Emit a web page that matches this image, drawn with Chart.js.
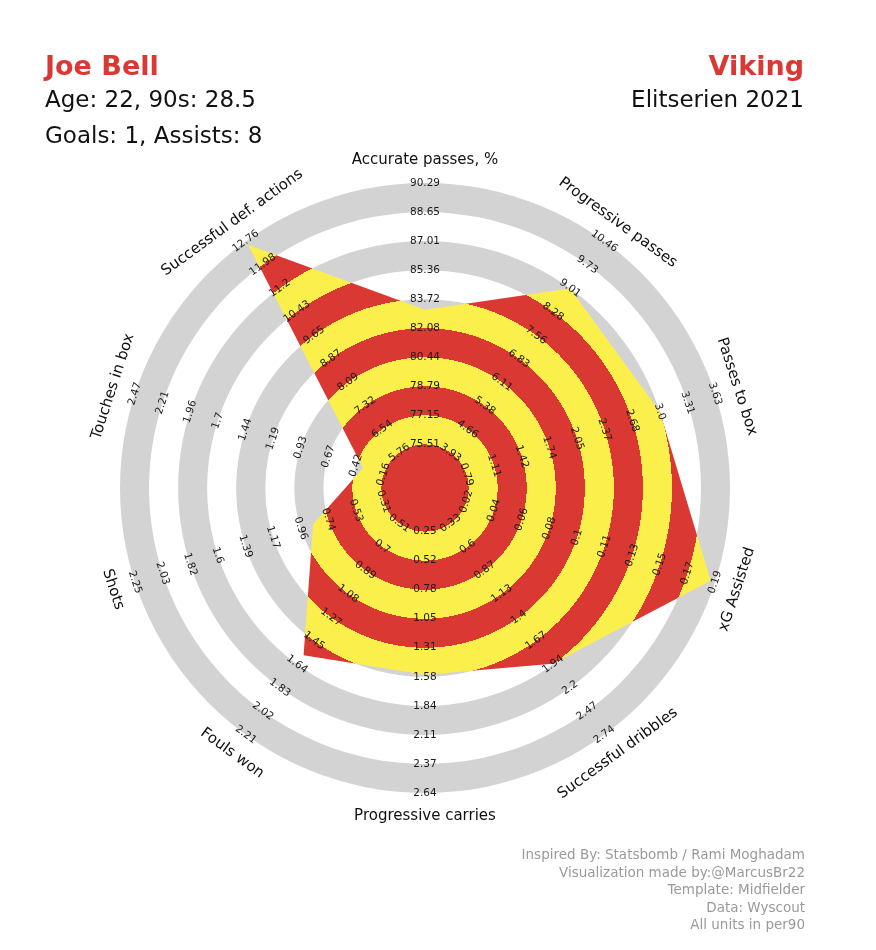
<!DOCTYPE html>
<html>
<head>
<meta charset="utf-8">
<script src="https://cdn.jsdelivr.net/npm/chart.js@4.4.1/dist/chart.umd.min.js"></script>
<style>
  body { margin: 0; background: #fff; font-family: "DejaVu Sans", sans-serif; }
  #wrap { position: relative; width: 876px; height: 950px; }
  #radar { position: absolute; left: 0; top: 0; }
  .txt { position: absolute; white-space: pre; line-height: 1; }
  .name { font-weight: bold; font-size: 27px; color: #DA3833; top: 52px; }
  .sub { font-size: 23px; color: #111; }
  #notes { position: absolute; right: 71px; top: 846px; text-align: right; font-size: 13.5px;
           line-height: 17.5px; color: #9a9a9a; white-space: pre; }
</style>
</head>
<body>
<div id="wrap">
  <canvas id="radar" width="876" height="950"></canvas>
  <div class="txt name" style="left:45px">Joe Bell</div>
  <div class="txt sub" style="left:45px; top:88px">Age: 22, 90s: 28.5</div>
  <div class="txt sub" style="left:45px; top:124px">Goals: 1, Assists: 8</div>
  <div class="txt name" style="right:72px">Viking</div>
  <div class="txt sub" style="right:72px; top:88px">Elitserien 2021</div>
  <div id="notes">Inspired By: Statsbomb / Rami Moghadam
Visualization made by:@MarcusBr22
Template: Midfielder
Data: Wyscout
All units in per90</div>
</div>
<script>
// Parametros del radar
const params = ["Accurate passes, %", "Progressive passes", "Passes to box", "xG Assisted",
  "Successful dribbles", "Progressive carries", "Fouls won", "Shots", "Touches in box",
  "Successful def. actions"];
const valores = [83.13, 9.0, 3.0, 0.187, 1.93, 1.56, 1.57, 0.86, 0.35, 12.64];

// Etiquetas de cada eje (de adentro hacia afuera)
const ticksAccurate = ["75.51", "77.15", "78.79", "80.44", "82.08", "83.72", "85.36", "87.01", "88.65", "90.29"];
const ticksProgPasses = ["3.93", "4.66", "5.38", "6.11", "6.83", "7.56", "8.28", "9.01", "9.73", "10.46"];
const ticksPassesBox = ["0.79", "1.11", "1.42", "1.74", "2.05", "2.37", "2.68", "3.0", "3.31", "3.63"];
const ticksXGA = ["0.02", "0.04", "0.06", "0.08", "0.1", "0.11", "0.13", "0.15", "0.17", "0.19"];
const ticksDribbles = ["0.33", "0.6", "0.87", "1.13", "1.4", "1.67", "1.94", "2.2", "2.47", "2.74"];
const ticksCarries = ["0.25", "0.52", "0.78", "1.05", "1.31", "1.58", "1.84", "2.11", "2.37", "2.64"];
const ticksFouls = ["0.51", "0.7", "0.89", "1.08", "1.27", "1.45", "1.64", "1.83", "2.02", "2.21"];
const ticksShots = ["0.31", "0.53", "0.74", "0.96", "1.17", "1.39", "1.6", "1.82", "2.03", "2.25"];
const ticksTouches = ["0.16", "0.42", "0.67", "0.93", "1.19", "1.44", "1.7", "1.96", "2.21", "2.47"];
const ticksDef = ["5.76", "6.54", "7.32", "8.09", "8.87", "9.65", "10.43", "11.2", "11.98", "12.76"];

const ticksPorEje = [ticksAccurate, ticksProgPasses, ticksPassesBox, ticksXGA, ticksDribbles,
  ticksCarries, ticksFouls, ticksShots, ticksTouches, ticksDef];

const ROJO = '#DA3833';
const AMARILLO = '#FBF04B';
const GRIS = '#D3D3D3';
const NUM_ANILLOS = 10;

// cada valor se pasa a "numero de anillo" 0..9 segun el rango de su eje
const normalizados = valores.map((v, i) => {
  const t = ticksPorEje[i];
  const min = parseFloat(t[0]);
  const max = parseFloat(t[t.length - 1]);
  return (v - min) / (max - min) * (NUM_ANILLOS - 1);
});

function radioAnillo(scale, k) {
  return scale.getDistanceFromCenterForValue(k);
}

function rotacion(grados) {
  if (grados > 90 && grados < 270) return grados - 180;
  if (grados >= 270) return grados - 360;
  return grados;
}

// gradiente radial con cortes duros: rojo / amarillo alternados
function rellenoBandas(context) {
  const chart = context.chart;
  const scale = chart.scales.r;
  if (!chart.chartArea || !scale || !scale.drawingArea) return ROJO;
  const R = scale.drawingArea;
  const g = chart.ctx.createRadialGradient(scale.xCenter, scale.yCenter, 0, scale.xCenter, scale.yCenter, R);
  let color = ROJO;
  g.addColorStop(0, color);
  for (let k = 0; k < NUM_ANILLOS; k++) {
    const p = Math.min(1, radioAnillo(scale, k) / R);
    g.addColorStop(p, color);
    color = (k % 2 === 0) ? AMARILLO : ROJO;
    g.addColorStop(p, color);
  }
  g.addColorStop(1, color);
  return g;
}

const anillosGrises = {
  id: 'anillosGrises',
  beforeDatasetsDraw(chart) {
    const scale = chart.scales.r;
    const ctx = chart.ctx;
    ctx.save();
    ctx.fillStyle = GRIS;
    for (let k = 0; k < NUM_ANILLOS - 1; k += 2) {
      const r1 = radioAnillo(scale, k);
      const r2 = radioAnillo(scale, k + 1);
      ctx.beginPath();
      ctx.arc(scale.xCenter, scale.yCenter, r2, 0, Math.PI * 2);
      ctx.arc(scale.xCenter, scale.yCenter, r1, 0, Math.PI * 2, true);
      ctx.fill('evenodd');
    }
    ctx.restore();
  }
};

const etiquetas = {
  id: 'etiquetas',
  afterDatasetsDraw(chart) {
    const scale = chart.scales.r;
    const ctx = chart.ctx;
    ctx.save();
    ctx.textAlign = 'center';
    ctx.textBaseline = 'middle';
    params.forEach((nombre, i) => {
      const ang = rotacion(i * 360 / params.length) * Math.PI / 180;
      // rangos
      ctx.font = '10.5px "DejaVu Sans"';
      ctx.fillStyle = '#1a1a1a';
      ticksPorEje[i].forEach((txt, k) => {
        const p = scale.getPointPosition(i, radioAnillo(scale, k));
        ctx.save();
        ctx.translate(p.x, p.y);
        ctx.rotate(ang);
        ctx.fillText(txt, 0, 0);
        ctx.restore();
      });
      // nombre del parametro
      const p = scale.getPointPosition(i, scale.drawingArea + 23);
      ctx.font = '15px "DejaVu Sans"';
      ctx.fillStyle = '#111';
      ctx.save();
      ctx.translate(p.x, p.y);
      ctx.rotate(ang);
      ctx.fillText(nombre, 0, 0);
      ctx.restore();
    });
    ctx.restore();
  }
};

new Chart(document.getElementById('radar'), {
  type: 'radar',
  data: {
    labels: params,
    datasets: [{
      data: normalizados,
      backgroundColor: rellenoBandas,
      borderWidth: 0,
      pointRadius: 0,
      fill: 'start'
    }]
  },
  options: {
    responsive: false,
    animation: false,
    layout: { padding: { left: 120, right: 146, top: 183, bottom: 157 } },
    plugins: { legend: { display: false }, tooltip: { enabled: false } },
    scales: {
      r: {
        min: -1.5,
        max: 9,
        ticks: { display: false },
        grid: { display: false },
        angleLines: { display: false },
        pointLabels: { display: false }
      }
    }
  },
  plugins: [anillosGrises, etiquetas]
});
</script>
</body>
</html>
